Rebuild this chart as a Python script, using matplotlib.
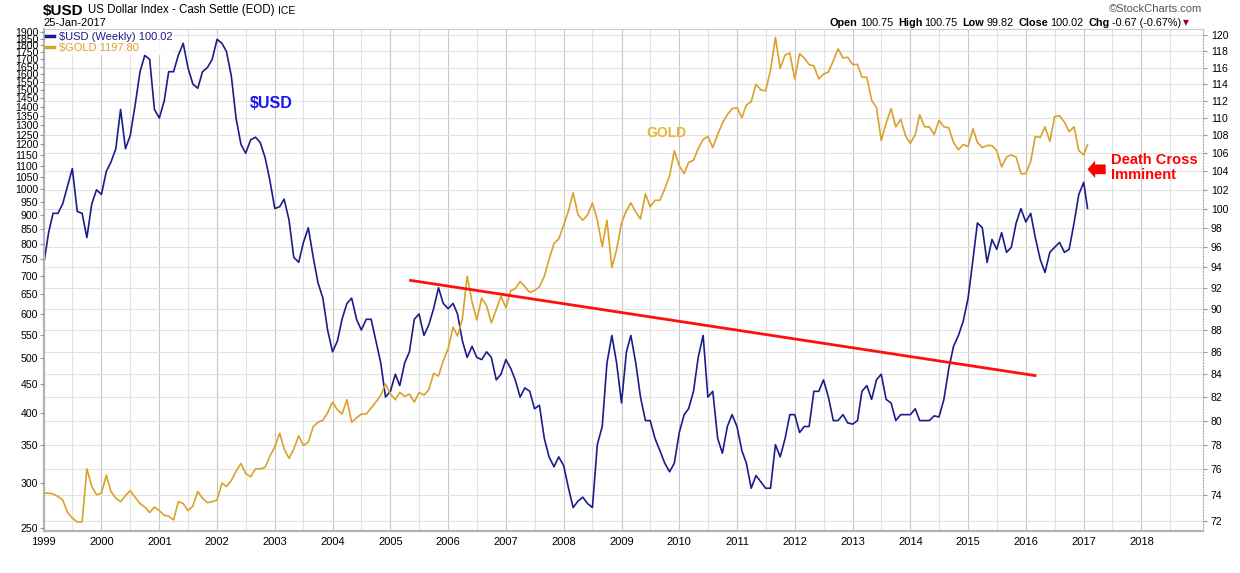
import numpy as np
import pandas as pd
import matplotlib
matplotlib.use("Agg")
import matplotlib.pyplot as plt
import matplotlib.dates as mdates
from matplotlib.ticker import NullLocator, FixedLocator

plt.rcParams['font.family'] = ['Liberation Sans', 'DejaVu Sans']

# monthly points (start of month) Jan 1999 .. Jan 2017, plus last weekly close
dates = pd.date_range('1999-01-01', '2017-01-01', freq='MS').append(pd.DatetimeIndex(['2017-01-25']))

usd = [
    94.3, 97.5, 99.5, 99.5, 100.5, 102.4, 104.3, 99.7, 99.5, 97.0, 100.5, 102.0,      # 1999
    101.5, 104.0, 105.0, 106.5, 111.0, 106.5, 108.0, 111.5, 115.5, 117.5, 117.0, 111.0,  # 2000
    110.0, 112.0, 115.5, 115.5, 117.5, 119.0, 116.0, 114.0, 113.5, 115.5, 116.0, 117.0,  # 2001
    119.5, 119.0, 118.0, 115.0, 110.0, 107.0, 106.0, 107.5, 107.8, 107.2, 105.5, 103.0,  # 2002
    100.0, 100.2, 101.0, 98.8, 95.0, 94.5, 96.5, 98.0, 95.0, 92.5, 91.0, 88.0,        # 2003
    86.0, 87.0, 89.0, 90.5, 91.0, 89.0, 88.0, 89.0, 89.0, 87.0, 85.0, 82.0,           # 2004
    82.5, 84.0, 83.0, 85.0, 86.0, 89.0, 89.5, 87.5, 88.5, 90.0, 92.0, 90.5,           # 2005
    90.0, 90.5, 89.5, 87.0, 85.5, 86.5, 85.5, 85.3, 86.0, 85.5, 83.5, 84.0,           # 2006
    85.3, 84.5, 83.5, 82.0, 82.8, 82.5, 81.0, 81.3, 78.5, 77.0, 76.2, 77.0,           # 2007
    76.3, 74.5, 73.0, 73.5, 73.8, 73.3, 73.0, 78.0, 79.5, 85.0, 87.5, 85.0,           # 2008
    81.5, 86.0, 87.5, 85.0, 82.0, 80.0, 80.0, 78.5, 77.5, 76.5, 75.8, 76.5,           # 2009
    79.0, 80.5, 81.0, 82.5, 85.5, 87.5, 82.0, 82.5, 78.5, 77.3, 79.5, 80.5,           # 2010
    79.5, 77.5, 76.5, 74.5, 75.5, 75.0, 74.5, 74.5, 78.0, 77.0, 78.5, 80.5,           # 2011
    80.5, 79.0, 79.5, 79.5, 82.5, 82.5, 83.5, 82.0, 80.0, 80.0, 80.5, 79.8,           # 2012
    79.7, 80.0, 82.5, 83.0, 81.8, 83.5, 84.0, 81.8, 81.5, 80.0, 80.5, 80.5,           # 2013
    80.5, 81.0, 80.0, 80.0, 80.0, 80.4, 80.3, 81.8, 84.5, 86.5, 87.5, 88.8,           # 2014
    91.0, 94.8, 98.5, 98.0, 94.5, 96.8, 95.8, 97.5, 95.5, 96.0, 98.5, 100.0,          # 2015
    98.6, 99.5, 97.0, 94.8, 93.5, 95.5, 96.0, 96.5, 95.5, 95.8, 98.5, 101.5,          # 2016
    102.8, 100.02,                                                                    # 2017
]

gold = [
    288, 288, 287, 284, 280, 266, 260, 256, 256, 318, 296, 286,        # 1999
    288, 310, 290, 282, 278, 285, 291, 283, 276, 272, 266, 272,        # 2000
    268, 263, 262, 258, 278, 276, 268, 273, 290, 282, 277, 278,        # 2001
    280, 300, 296, 303, 315, 325, 312, 308, 318, 318, 320, 335,        # 2002
    348, 368, 345, 332, 345, 364, 350, 355, 378, 385, 388, 400,        # 2003
    418, 405, 398, 422, 385, 392, 398, 398, 408, 418, 430, 450,        # 2004
    432, 422, 435, 428, 432, 418, 435, 430, 440, 470, 465, 495,        # 2005
    520, 568, 548, 588, 700, 630, 585, 640, 620, 578, 610, 645,        # 2006
    615, 660, 665, 685, 670, 655, 660, 670, 700, 750, 800, 815,        # 2007
    862, 915, 985, 900, 880, 900, 945, 880, 790, 880, 725, 780,        # 2008
    870, 915, 945, 910, 885, 980, 930, 955, 955, 1000, 1055, 1170,     # 2009
    1100, 1065, 1115, 1125, 1180, 1225, 1240, 1185, 1250, 1310, 1355, 1390,  # 2010
    1395, 1340, 1410, 1430, 1535, 1500, 1495, 1625, 1860, 1640, 1730, 1745,  # 2011
    1570, 1740, 1710, 1665, 1655, 1570, 1600, 1615, 1690, 1775, 1710, 1715,  # 2012
    1665, 1665, 1580, 1580, 1440, 1395, 1220, 1310, 1390, 1290, 1330, 1245,  # 2013
    1205, 1250, 1355, 1290, 1290, 1250, 1325, 1290, 1285, 1210, 1175, 1200,  # 2014
    1190, 1280, 1210, 1185, 1195, 1195, 1170, 1095, 1140, 1150, 1140, 1065,  # 2015
    1065, 1120, 1240, 1235, 1290, 1215, 1345, 1350, 1315, 1265, 1290, 1170,  # 2016
    1150, 1197.80,                                                           # 2017
]

# hand drawn trend line (on the gold scale)
trend_dates = pd.to_datetime(['2005-05-08', '2016-02-28'])
trend_vals = [688, 466]

gold_ticks = list(range(250, 1901, 50))
usd_ticks = list(range(72, 121, 2))
year_ticks = pd.to_datetime([f'{y}-01-01' for y in range(1999, 2019)])
half_ticks = pd.to_datetime([f'{y}-07-01' for y in range(1999, 2019)])

usd_color = '#1c1c8c'
gold_color = '#d9a22a'

W, H = 1240, 573
fig = plt.figure(figsize=(W / 100, H / 100), dpi=100)
ax = fig.add_axes([43.7 / W, (H - 531) / H, (1202.5 - 43.7) / W, (531 - 29.3) / H])
axg = ax.twinx()
ax.yaxis.tick_right()

# USD on the right log axis (drawn underneath)
ax.plot(dates, usd, color=usd_color, lw=1.2)
ax.set_yscale('log')
ax.set_ylim(71.22, 120.77)
ax.set_yticks(usd_ticks, [str(v) for v in usd_ticks])
ax.yaxis.set_minor_locator(NullLocator())
ax.tick_params(axis='y', which='major', labelsize=7.5, length=3, color='#999999', pad=3)

ax.set_xlim(pd.Timestamp('1999-01-01'), pd.Timestamp('2019-01-22'))
ax.xaxis.set_major_locator(FixedLocator(mdates.date2num(year_ticks)))
ax.xaxis.set_major_formatter(mdates.DateFormatter('%Y'))
ax.xaxis.set_minor_locator(FixedLocator(mdates.date2num(half_ticks)))
ax.tick_params(axis='x', which='major', labelsize=8, length=0, pad=4)
ax.tick_params(axis='x', which='minor', length=0)

ax.grid(axis='y', which='major', color='#e2e2e2', lw=0.8)
ax.grid(axis='x', which='major', color='#c8c8c8', lw=0.8)
ax.grid(axis='x', which='minor', color='#e2e2e2', lw=0.8)
ax.set_axisbelow(True)

for side in ['left', 'bottom']:
    ax.spines[side].set_color('#b4b4b4')
    ax.spines[side].set_linewidth(1.6)
ax.spines['top'].set_color('#cccccc')
ax.spines['right'].set_color('#aaaaaa')
ax.spines['right'].set_linestyle(':')

# gold on the left log axis (drawn on top)
axg.plot(dates, gold, color=gold_color, lw=1.2)
axg.plot(trend_dates, trend_vals, color='#ff1010', lw=2)
axg.set_yscale('log')
axg.set_ylim(246.6, 1923)
axg.yaxis.tick_left()
axg.set_yticks(gold_ticks, [str(v) for v in gold_ticks])
axg.yaxis.set_minor_locator(NullLocator())
axg.tick_params(axis='y', which='major', labelsize=7.6, length=3, color='#999999', pad=1)
for s in axg.spines.values():
    s.set_visible(False)

# legend
h1, = axg.plot([], [], color=usd_color, lw=2.5)
h2, = axg.plot([], [], color=gold_color, lw=2.5)
leg = axg.legend([h1, h2], ['$USD (Weekly) 100.02', '$GOLD 1197.80'], loc='upper left',
                 bbox_to_anchor=(0.0, 1.0), fontsize=8, frameon=True, facecolor='white',
                 edgecolor='none', framealpha=0.85, handlelength=0.7, handletextpad=0.4,
                 borderpad=0.15, borderaxespad=0.1, labelspacing=0.1, fancybox=False)
for t, c in zip(leg.get_texts(), [usd_color, gold_color]):
    t.set_color(c)

# labels on the chart
axg.text(pd.Timestamp('2002-07-30'), 1420, '$USD', color='#1515ee', fontsize=11.5,
         fontweight='bold', va='center', ha='left')
axg.text(pd.Timestamp('2009-06-10'), 1256, 'GOLD', color='#e8b535', fontsize=10,
         fontweight='bold', va='center', ha='left')
axg.text(pd.Timestamp('2017-06-25'), 1093, 'Death Cross\nImminent', color='#ff0000',
         fontsize=10.5, fontweight='bold', va='center', ha='left', linespacing=1.05)
axg.annotate('', xy=(pd.Timestamp('2017-01-25'), 1084), xytext=(pd.Timestamp('2017-05-20'), 1084),
             arrowprops=dict(arrowstyle='simple,head_length=0.55,head_width=1.25,tail_width=0.7',
                             color='#ff0000', lw=0, shrinkA=0, shrinkB=0))

renderer = fig.canvas.get_renderer()


def ftext(x, y, s, **kw):
    return fig.text(x / W, 1 - y / H, s, va='center', **kw)


def row_text(x, y, parts):
    # lay the pieces out one after another, x in pixels
    for s, size, weight, gap in parts:
        t = ftext(x, y, s, fontsize=size, fontweight=weight)
        x += t.get_window_extent(renderer).width + gap
    return x


# header
row_text(43, 10.5, [('$USD', 11, 'bold', 4),
                    ('US Dollar Index - Cash Settle (EOD)', 8.3, 'normal', 4),
                    ('ICE', 7.5, 'normal', 0)])
ftext(43, 22.5, '25-Jan-2017', fontsize=8)
ftext(1202, 8.5, '\u00a9StockCharts.com', fontsize=8, color='#555555', ha='right')

end = row_text(830, 22.5, [('Open', 7.8, 'bold', 2), ('100.75', 7.8, 'normal', 5),
                           ('High', 7.8, 'bold', 2), ('100.75', 7.8, 'normal', 5),
                           ('Low', 7.8, 'bold', 2), ('99.82', 7.8, 'normal', 5),
                           ('Close', 7.8, 'bold', 2), ('100.02', 7.8, 'normal', 5),
                           ('Chg', 7.8, 'bold', 2), ('-0.67 (-0.67%)', 7.8, 'normal', 2)])
ftext(end, 23, '\u25bc', fontsize=5.5, color='#990033', family='DejaVu Sans')

fig.savefig('out.png', dpi=100)
